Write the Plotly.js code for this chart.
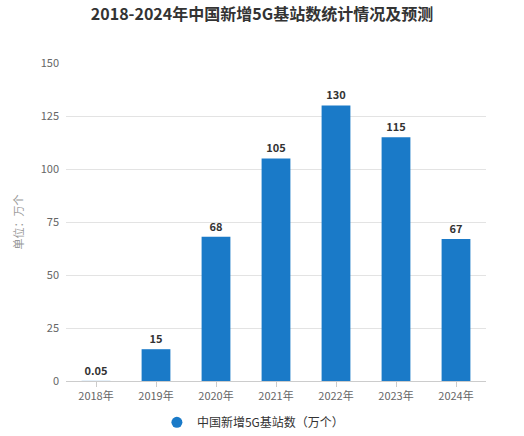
<!DOCTYPE html>
<html><head><meta charset="utf-8">
<script src="https://cdn.plot.ly/plotly-3.0.1.min.js"></script>
<style>body{margin:0;background:#fff}#c{width:524px;height:436px}</style>
</head><body><div id="c"></div>
<script>
var years = ['2018年','2019年','2020年','2021年','2022年','2023年','2024年'];
var values = [0.05, 15, 68, 105, 130, 115, 67];
var labels = ['0.05','15','68','105','130','115','67'];
var seriesName = '中国新增5G基站数（万个）';
var yTicks = [0,25,50,75,100,125,150];

var font = '"Noto Sans CJK SC", "Noto Sans", sans-serif';
var blue = '#1a7ac8';

var traces = [
  {type:'bar', x:years, y:values, text:labels, textposition:'outside',
   textfont:{family:font, size:11, color:'#333'}, texttemplate:'<b>%{text}</b>',
   marker:{color:blue}, showlegend:false, cliponaxis:false, hoverinfo:'none'},
  {type:'scatter', mode:'markers', x:[null], y:[null], name:seriesName,
   marker:{color:blue, size:11, symbol:'circle'}, showlegend:true}
];
var layout = {
  width:524, height:436,
  margin:{l:66, r:38, t:63, b:55, autoexpand:false},
  paper_bgcolor:'#fff', plot_bgcolor:'#fff',
  bargap:0.52,
  font:{family:font, color:'#666', size:11},
  title:{text:'<b>2018-2024年中国新增5G基站数统计情况及预测</b>', x:0.5, xanchor:'center', y:0.968, yanchor:'middle',
    font:{family:font, size:16, color:'#333'}},
  xaxis:{type:'category', showline:true, linecolor:'#ccc', ticks:'outside', ticklen:5, tickcolor:'#ccc',
    tickfont:{size:11, color:'#666'}, showgrid:false, fixedrange:true},
  yaxis:{range:[0,150], tickvals:yTicks, showgrid:true, gridcolor:'#e3e3e3', zeroline:false,
    tickfont:{size:11, color:'#666'}, ticklabelstandoff:6,
    title:{text:'单位：万个', font:{size:11, color:'#999'}, standoff:14}},
  legend:{orientation:'h', x:0.445, xanchor:'center', y:-0.13, yanchor:'middle',
    font:{size:12, color:'#333'}}
};
Plotly.newPlot('c', traces, layout, {displayModeBar:false, staticPlot:true});
</script></body></html>
